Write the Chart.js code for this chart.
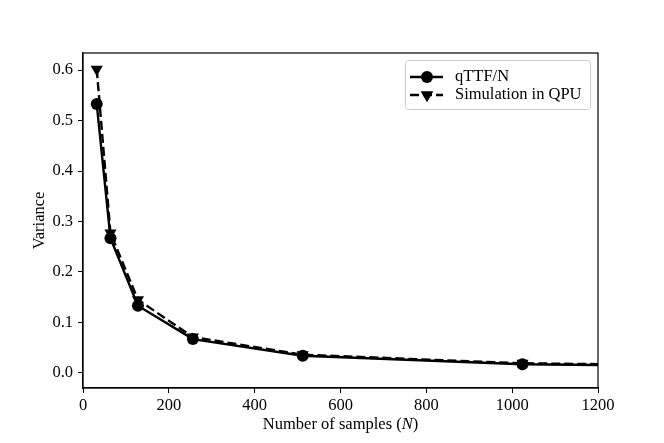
<!DOCTYPE html>
<html>
<head>
<meta charset="utf-8">
<script src="https://cdn.jsdelivr.net/npm/chart.js@4.4.1/dist/chart.umd.min.js"></script>
<style>
  html, body { margin: 0; padding: 0; background: #fff; }
  #wrap { width: 664px; height: 443px; }
</style>
</head>
<body>
<div id="wrap"><canvas id="myChart" width="664" height="443"></canvas></div>
<script>
// data ===============================================================
const samplesN = [32, 64, 128, 256, 512, 1024, 2048];
const qttfVar = [0.533, 0.267, 0.133, 0.067, 0.034, 0.017, 0.0083];
const simVar = [0.602, 0.277, 0.145, 0.071, 0.036, 0.019, 0.009];
const xTicks = [0, 200, 400, 600, 800, 1000, 1200];
const yTicks = [0.0, 0.1, 0.2, 0.3, 0.4, 0.5, 0.6];
const seriesNames = ["qTTF/N", "Simulation in QPU"];

const FONT = "'Liberation Serif', 'DejaVu Serif', serif";
const FSIZE = 16.5;

// plugins ===============================================================
function chartBorder(_width, _color) {
    return {
        id: 'chartAreaBorder',
        afterDraw(chart) {
            const { ctx, chartArea: { left, top, width, height } } = chart;
            ctx.save();
            ctx.strokeStyle = _color;
            ctx.lineWidth = _width;
            ctx.strokeRect(left, top, width, height);
            ctx.restore();
        }
    };
}

function axisTitles() {
    return {
        id: 'axisTitles',
        afterDraw(chart) {
            const ctx = chart.ctx;
            const a = chart.chartArea;
            ctx.save();
            ctx.fillStyle = '#000';
            ctx.textBaseline = 'middle';
            // x title with italic N
            const parts = [["Number of samples (", FSIZE + "px " + FONT],
                           ["N", "italic " + FSIZE + "px " + FONT],
                           [")", FSIZE + "px " + FONT]];
            let total = 0;
            parts.forEach(p => { ctx.font = p[1]; total += ctx.measureText(p[0]).width; });
            let x = (a.left + a.right) / 2 - total / 2;
            parts.forEach(p => {
                ctx.font = p[1];
                ctx.textAlign = 'left';
                ctx.fillText(p[0], x, 425);
                x += ctx.measureText(p[0]).width;
            });
            // y title
            ctx.translate(40, (a.top + a.bottom) / 2);
            ctx.rotate(-Math.PI / 2);
            ctx.font = FSIZE + "px " + FONT;
            ctx.textAlign = 'center';
            ctx.fillText("Variance", 0, 0);
            ctx.restore();
        }
    };
}

function innerLegend() {
    return {
        id: 'innerLegend',
        afterDraw(chart) {
            const ctx = chart.ctx;
            const a = chart.chartArea;
            const bx = a.right - 193, by = a.top + 7, bw = 185, bh = 49;
            ctx.save();
            ctx.fillStyle = 'rgba(255,255,255,0.8)';
            ctx.strokeStyle = '#cccccc';
            ctx.lineWidth = 1;
            ctx.beginPath();
            ctx.roundRect(bx + 0.5, by + 0.5, bw, bh, 3);
            ctx.fill();
            ctx.stroke();
            chart.data.datasets.forEach((ds, i) => {
                const yy = by + 17 + i * 18;
                ctx.strokeStyle = '#000';
                ctx.lineWidth = ds.borderWidth;
                ctx.setLineDash(ds.borderDash || []);
                ctx.beginPath();
                ctx.moveTo(bx + 5, yy);
                ctx.lineTo(bx + 38, yy);
                ctx.stroke();
                ctx.setLineDash([]);
                Chart.helpers.drawPoint(ctx, {
                    pointStyle: ds.pointStyle,
                    rotation: ds.pointRotation || 0,
                    radius: ds.pointRadius,
                    borderWidth: 0
                }, bx + 22, yy);
                ctx.fillStyle = '#000';
                ctx.fill();
                ctx.font = FSIZE + "px " + FONT;
                ctx.textAlign = 'left';
                ctx.textBaseline = 'middle';
                ctx.fillText(ds.label, bx + 50, yy);
            });
            ctx.restore();
        }
    };
}

// chart ===============================================================
function plot_line() {
    let ctx = document.getElementById("myChart");
    let data_q = {
        label: seriesNames[0],
        data: samplesN.map((n, i) => ({ x: n, y: qttfVar[i] })),
        borderColor: "#000",
        backgroundColor: "#000",
        borderWidth: 2.4,
        pointStyle: 'circle',
        pointRadius: 6,
        pointBorderWidth: 0,
        tension: 0,
        order: 1
    };
    let data_s = {
        label: seriesNames[1],
        data: samplesN.map((n, i) => ({ x: n, y: simVar[i] })),
        borderColor: "#000",
        backgroundColor: "#000",
        borderWidth: 2.4,
        borderDash: [9, 4],
        pointStyle: 'triangle',
        pointRotation: 180,
        pointRadius: 7,
        pointBorderWidth: 0,
        tension: 0,
        order: 2
    };
    let tickFont = { family: FONT, size: FSIZE };
    let options = {
        responsive: false,
        animation: false,
        layout: { padding: { left: 0, right: 66, top: 53, bottom: 0 } },
        plugins: {
            legend: { display: false },
            tooltip: { enabled: false }
        },
        scales: {
            x: {
                type: 'linear',
                min: 0,
                max: 1200,
                afterBuildTicks: s => { s.ticks = xTicks.map(v => ({ value: v })); },
                afterFit: s => { s.height = 55; },
                ticks: { font: tickFont, color: '#000', padding: 3, maxRotation: 0,
                         callback: v => String(v) },
                grid: { drawOnChartArea: false, drawTicks: true, tickLength: 5, color: '#000', tickWidth: 1 },
                border: { display: true, color: '#000', width: 1.2 }
            },
            y: {
                min: -0.03,
                max: 0.634,
                afterBuildTicks: s => { s.ticks = yTicks.map(v => ({ value: v })); },
                afterFit: s => { s.width = 83; },
                ticks: { font: tickFont, color: '#000', padding: 5,
                         callback: v => v.toFixed(1) },
                grid: { drawOnChartArea: false, drawTicks: true, tickLength: 5, color: '#000', tickWidth: 1 },
                border: { display: true, color: '#000', width: 1.2 }
            }
        }
    };
    new Chart(ctx, {
        type: "line",
        data: { datasets: [data_q, data_s] },
        options: options,
        plugins: [chartBorder(1.2, '#000'), axisTitles(), innerLegend()]
    });
}
plot_line();
</script>
</body>
</html>
